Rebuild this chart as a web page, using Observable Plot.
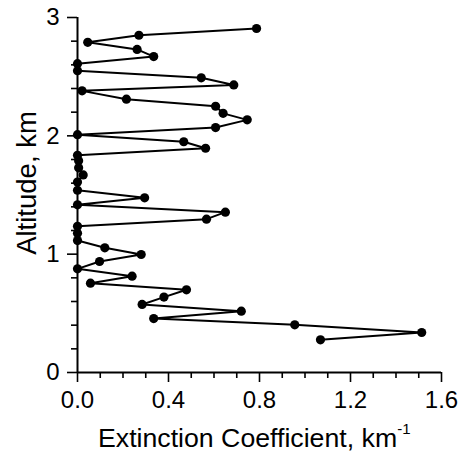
<!DOCTYPE html>
<html><head><meta charset="utf-8">
<script src="https://cdn.jsdelivr.net/npm/d3@7"></script>
<script src="https://cdn.jsdelivr.net/npm/@observablehq/plot@0.6"></script>
<style>body{margin:0;background:#fff;}</style>
</head><body><div id="chart"></div>
<script>
const altitude = [0.276, 0.338, 0.403, 0.456, 0.518, 0.575, 0.637, 0.699, 0.755, 0.814,
  0.876, 0.938, 0.997, 1.054, 1.115, 1.177, 1.236, 1.296, 1.355, 1.417,
  1.476, 1.54, 1.61, 1.67, 1.73, 1.79, 1.836, 1.895, 1.95, 2.01,
  2.07, 2.135, 2.19, 2.25, 2.31, 2.38, 2.43, 2.49, 2.55, 2.61,
  2.67, 2.73, 2.79, 2.85, 2.907];
const extinction = [1.068, 1.513, 0.955, 0.335, 0.72, 0.284, 0.38, 0.479, 0.057, 0.24,
  0.0, 0.097, 0.28, 0.12, 0.0, 0.0, 0.0, 0.567, 0.65, 0.0,
  0.295, 0.0, 0.0, 0.025, 0.005, 0.005, 0.0, 0.563, 0.467, 0.0,
  0.607, 0.746, 0.64, 0.607, 0.215, 0.02, 0.687, 0.544, 0.0, 0.0,
  0.335, 0.262, 0.045, 0.27, 0.787];
const xMajorTicks = [0, 0.4, 0.8, 1.2, 1.6];
const xMinorTicks = [0.1, 0.2, 0.3, 0.5, 0.6, 0.7, 0.9, 1.0, 1.1, 1.3, 1.4, 1.5];
const yMajorTicks = [0, 1, 2, 3];
const yMinorTicks = [0.2, 0.4, 0.6, 0.8, 1.2, 1.4, 1.6, 1.8, 2.2, 2.4, 2.6, 2.8];
const xTitle = "Extinction Coefficient, km";
const xTitleSup = "-1";
const yTitle = "Altitude, km";

const data = altitude.map((a, i) => ({alt: a, ext: extinction[i]}));
const font = "'Liberation Sans', Arial, sans-serif";

const chart = Plot.plot({
  width: 460, height: 459,
  marginLeft: 77, marginRight: 19, marginTop: 17, marginBottom: 87,
  style: {fontFamily: font, background: "#fff", color: "#000", overflow: "visible"},
  x: {domain: [0, 1.6]},
  y: {domain: [0, 3]},
  marks: [
    Plot.axisX({ticks: xMajorTicks, tickSize: 10, tickPadding: 8, tickFormat: d3.format(".1f"), fontSize: 24, label: null, stroke: "#000", strokeWidth: 1.6, strokeOpacity: 1}),
    Plot.axisX({ticks: xMinorTicks, tickSize: 6, tickFormat: () => "", label: null, stroke: "#000", strokeWidth: 1.6, strokeOpacity: 1}),
    Plot.axisY({ticks: yMajorTicks, tickSize: 10, tickPadding: 8, tickFormat: d3.format("d"), fontSize: 24, label: null, stroke: "#000", strokeWidth: 1.6, strokeOpacity: 1}),
    Plot.axisY({ticks: yMinorTicks, tickSize: 6, tickFormat: () => "", label: null, stroke: "#000", strokeWidth: 1.6, strokeOpacity: 1}),
    Plot.ruleX([0], {stroke: "#000", strokeWidth: 2}),
    Plot.ruleY([0], {stroke: "#000", strokeWidth: 2}),
    Plot.line(data, {x: "ext", y: "alt", stroke: "#000", strokeWidth: 2}),
    Plot.dot(data, {x: "ext", y: "alt", r: 4.6, fill: "#000", stroke: "none"})
  ]
});

const svg = d3.select(chart);
const xt = svg.append("text")
  .attr("x", 98).attr("y", 447)
  .attr("text-anchor", "start")
  .attr("font-family", font).attr("font-size", 26.7).attr("fill", "#000");
xt.append("tspan").text(xTitle);
xt.append("tspan").attr("font-size", 15).attr("dy", -13).text(xTitleSup);

svg.append("text")
  .attr("transform", "translate(36,183) rotate(-90)")
  .attr("text-anchor", "middle")
  .attr("font-family", font).attr("font-size", 27.5).attr("fill", "#000")
  .text(yTitle);

document.getElementById("chart").appendChild(chart);
</script>
</body></html>
